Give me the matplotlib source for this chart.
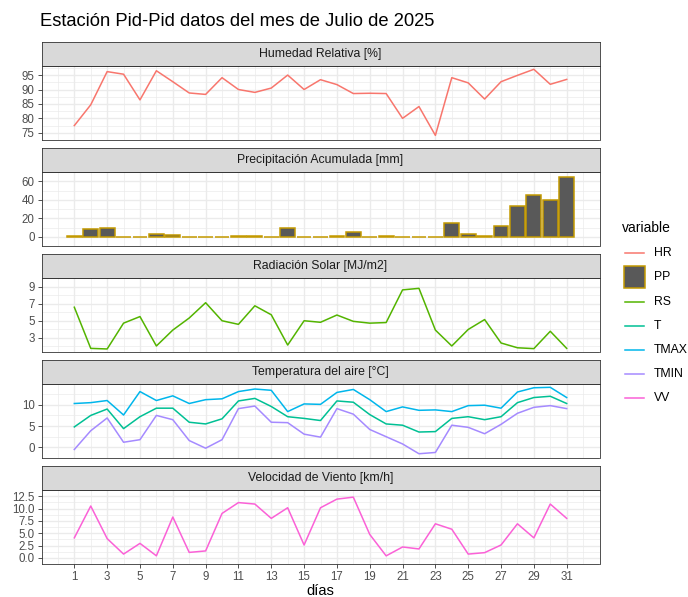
import matplotlib.pyplot as plt
import matplotlib
from matplotlib.patches import Rectangle

plt.rcParams['font.family'] = ['Liberation Sans', 'DejaVu Sans']

# datos diarios, julio 2025
dias = list(range(1, 32))
hr = [77.5, 84.7, 96.2, 95.3, 86.4, 96.5, 92.7, 88.8, 88.3, 94.1,
      90.0, 89.0, 90.5, 95.0, 90.0, 93.4, 91.7, 88.6, 88.7, 88.6,
      80.0, 84.1, 74.1, 94.1, 92.3, 86.7, 92.7, 94.9, 97.0, 91.8, 93.5]
pp = [1.0, 8.9, 9.9, 0, 0, 3.2, 1.6, 0, 0, 0,
      0.6, 0.3, 0, 9.9, 0, 0, 0.3, 5.1, 0, 0.4,
      0, 0, 0, 15.3, 3.5, 0.6, 11.8, 32.8, 44.9, 39.2, 64.3]
rs = [6.58, 1.77, 1.70, 4.72, 5.49, 2.05, 3.91, 5.32, 7.11, 5.0,
      4.58, 6.75, 5.70, 2.16, 5.0, 4.82, 5.67, 4.93, 4.72, 4.79,
      8.61, 8.79, 3.91, 2.05, 3.98, 5.14, 2.40, 1.84, 1.74, 3.77, 1.77]
t = [4.8, 7.5, 9.0, 4.4, 7.2, 9.2, 9.2, 5.9, 5.5, 6.7,
     10.9, 11.5, 9.6, 7.2, 6.8, 6.3, 10.9, 10.6, 7.7, 5.5,
     5.2, 3.6, 3.7, 6.8, 7.2, 6.5, 7.2, 10.5, 11.7, 12.0, 10.3]
tmax = [10.3, 10.5, 11.0, 7.6, 13.1, 11.0, 12.1, 10.3, 11.2, 11.4,
        13.1, 13.7, 13.4, 8.4, 10.2, 10.1, 12.9, 13.6, 11.2, 8.4,
        9.5, 8.7, 8.8, 8.4, 9.8, 9.9, 9.2, 13.0, 14.0, 14.1, 11.7]
tmin = [-0.5, 3.9, 6.9, 1.2, 1.8, 7.5, 6.5, 1.6, -0.2, 1.8,
        9.1, 9.7, 5.9, 5.8, 3.1, 2.4, 9.1, 7.8, 4.2, 2.5,
        0.8, -1.5, -1.2, 5.2, 4.7, 3.2, 5.4, 8.0, 9.4, 9.8, 9.1]
vv = [4.05, 10.5, 3.9, 0.76, 2.93, 0.41, 8.27, 1.1, 1.4, 9.0,
      11.2, 10.9, 8.0, 10.15, 2.6, 10.15, 11.9, 12.3, 4.75, 0.4,
      2.2, 1.8, 6.9, 5.8, 0.76, 1.05, 2.6, 6.9, 4.05, 10.9, 8.0]

colores = {'HR': '#F8766D', 'PP': '#C49A00', 'RS': '#53B400', 'T': '#00C094',
           'TMAX': '#00B6EB', 'TMIN': '#A58AFF', 'VV': '#FB61D7'}

paneles = [
    ('Humedad Relativa [%]', [('HR', hr)], [75, 80, 85, 90, 95], '{:.0f}'),
    ('Precipitación Acumulada [mm]', [('PP', pp)], [0, 20, 40, 60], '{:.0f}'),
    ('Radiación Solar [MJ/m2]', [('RS', rs)], [3, 5, 7, 9], '{:.0f}'),
    ('Temperatura del aire [°C]', [('T', t), ('TMAX', tmax), ('TMIN', tmin)], [0, 5, 10], '{:.0f}'),
    ('Velocidad de Viento [km/h]', [('VV', vv)], [0, 2.5, 5, 7.5, 10, 12.5], '{:.1f}'),
]

W, H = 688, 597
fig = plt.figure(figsize=(W / 100, H / 100), dpi=100)


def px_axes(left, top, right, bottom):
    return fig.add_axes([left / W, 1 - bottom / H, (right - left) / W, (bottom - top) / H])


borde = '#333333'
grid = '#EBEBEB'
left, right = 41.5, 599.5
strip_h, panel_h, paso = 24, 74, 106
top0 = 42

for i, (titulo, series, yticks, fmt) in enumerate(paneles):
    st = top0 + i * paso
    ax = px_axes(left, st + strip_h, right, st + strip_h + panel_h)
    sx = px_axes(left, st, right, st + strip_h)

    # strip
    sx.set_facecolor('#D9D9D9')
    sx.set_xticks([])
    sx.set_yticks([])
    for s in sx.spines.values():
        s.set_color(borde)
        s.set_linewidth(0.6)
    sx.text(0.5, 0.5, titulo, ha='center', va='center', fontsize=8.8, color='#1A1A1A',
            transform=sx.transAxes)

    vals = []
    for nombre, y in series:
        if nombre == 'PP':
            ax.bar(dias, y, width=0.9, color='#595959', edgecolor=colores[nombre],
                   linewidth=1.1, zorder=3)
            vals += list(y) + [0]
        else:
            ax.plot(dias, y, color=colores[nombre], lw=1.1, zorder=3)
            vals += list(y)
    lo, hi = min(vals), max(vals)
    pad = 0.05 * (hi - lo)
    ax.set_ylim(lo - pad, hi + pad)
    ax.set_xlim(-1, 33)

    paso_y = yticks[1] - yticks[0]
    menores = [yticks[0] - paso_y / 2] + [v + paso_y / 2 for v in yticks]
    ax.set_yticks(yticks)
    ax.set_yticklabels([fmt.format(v) for v in yticks])
    ax.set_yticks(menores, minor=True)
    ax.set_xticks(range(1, 32, 2))
    ax.set_xticks(range(0, 33, 2), minor=True)
    ax.grid(True, which='major', color=grid, lw=1.0, zorder=0)
    ax.grid(True, which='minor', color=grid, lw=0.5, zorder=0)
    ax.set_axisbelow(True)
    ax.tick_params(axis='both', which='major', length=3, width=0.6, color=borde,
                   labelsize=8.3, labelcolor='#4D4D4D', pad=2)
    ax.tick_params(axis='both', which='minor', length=0)
    for s in ax.spines.values():
        s.set_color(borde)
        s.set_linewidth(0.6)
    if i < len(paneles) - 1:
        ax.tick_params(axis='x', which='major', length=0, labelbottom=False)
    else:
        ax.set_xlabel('días', fontsize=10.5, color='black', labelpad=1)

fig.text(40 / W, 1 - 21 / H, 'Estación Pid-Pid datos del mes de Julio de 2025',
         fontsize=13.2, ha='left', va='center', color='black')

# leyenda
lg = fig.add_axes([0, 0, 1, 1])
lg.set_xlim(0, W)
lg.set_ylim(H, 0)
lg.axis('off')
lg.text(622, 228, 'variable', fontsize=10, va='center', ha='left')
nombres = ['HR', 'PP', 'RS', 'T', 'TMAX', 'TMIN', 'VV']
ys = [253, 277, 302, 326, 350, 374, 398]
for nombre, yy in zip(nombres, ys):
    if nombre == 'PP':
        lg.add_patch(Rectangle((624, yy - 11), 21, 22, facecolor='#595959',
                               edgecolor=colores['PP'], lw=1.1))
    else:
        lg.plot([625, 644], [yy, yy], color=colores[nombre], lw=1.1)
    lg.text(654, yy, nombre, fontsize=8.8, va='center', ha='left')

fig.savefig('out.png', dpi=100)
